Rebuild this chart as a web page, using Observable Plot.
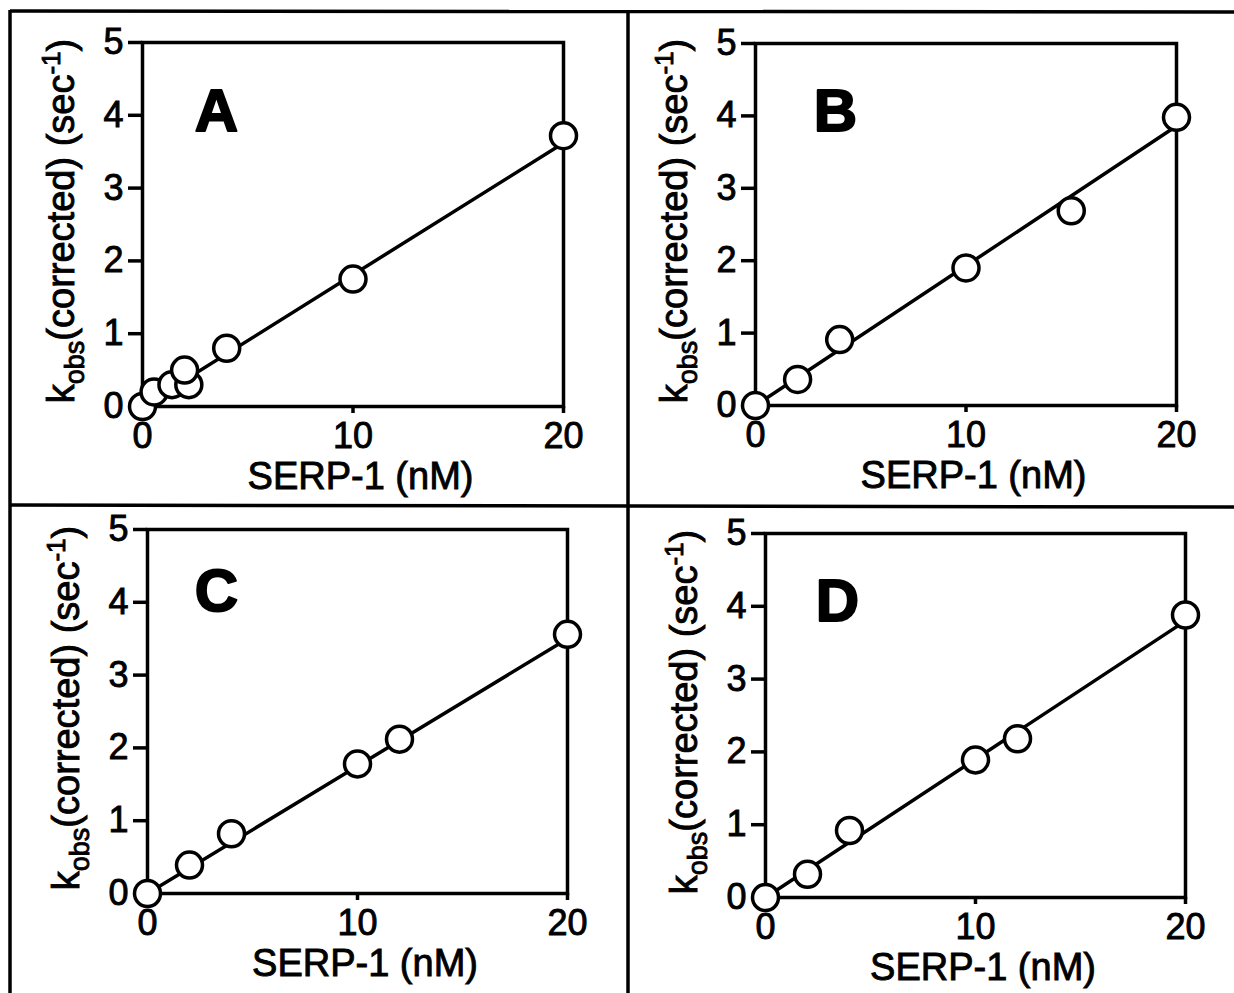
<!DOCTYPE html>
<html><head><meta charset="utf-8">
<script src="https://cdn.jsdelivr.net/npm/d3@7"></script>
<script src="https://cdn.jsdelivr.net/npm/@observablehq/plot@0.6"></script>
<style>
body{margin:0;background:#fff;}
#wrap{position:relative;width:1234px;height:993px;overflow:hidden;background:#fff;}
.panel{position:absolute;}
svg text{font-family:"Liberation Sans",Arial,sans-serif;}
svg g[aria-label$="tick label"] text, svg text.axtitle{stroke:black;stroke-width:0.9px;}
</style></head><body><div id="wrap"></div>
<script>
// ---- data ----
const panelKeys = ["A","B","C","D"];
const serpA = [0, 0.55, 1.4, 2.2, 2, 4, 10, 20];
const kobsA = [0, 0.2, 0.3, 0.3, 0.5, 0.8, 1.75, 3.72];
const serpB = [0, 2, 4, 10, 15, 20];
const kobsB = [0, 0.36, 0.91, 1.9, 2.69, 3.98];
const serpC = [0, 2, 4, 10, 12, 20];
const kobsC = [0, 0.39, 0.82, 1.78, 2.12, 3.56];
const serpD = [0, 2, 4, 10, 12, 20];
const kobsD = [0, 0.32, 0.92, 1.89, 2.18, 3.88];
const fitX = [0, 20];
const fitA = [0, 3.62];
const fitB = [0, 3.86];
const fitC = [0, 3.5];
const fitD = [0, 3.8];
const xTicks = [0, 10, 20];
const yTicks = [0, 1, 2, 3, 4, 5];
const xLabel = "SERP-1 (nM)";

// ---- layout ----
const layout = {
  A: {left: 0,   top: 0,   w: 617, h: 500, ml: 142, mr: 54, mt: 42, mb: 94, lx: 74, ly: 88},
  B: {left: 617, top: 0,   w: 617, h: 500, ml: 138, mr: 58, mt: 43, mb: 95, lx: 80, ly: 87},
  C: {left: 0,   top: 500, w: 617, h: 493, ml: 147, mr: 50, mt: 29, mb: 100, lx: 69, ly: 81},
  D: {left: 617, top: 500, w: 617, h: 493, ml: 148, mr: 49, mt: 33, mb: 96, lx: 72, ly: 87}
};
const series = {
  A: [serpA, kobsA, fitA], B: [serpB, kobsB, fitB],
  C: [serpC, kobsC, fitC], D: [serpD, kobsD, fitD]
};

const wrap = document.getElementById("wrap");

for (const key of panelKeys) {
  const L = layout[key];
  const [xs, ys, fit] = series[key];
  const pts = xs.map((x, i) => ({x, y: ys[i]}));
  const fitLine = fitX.map((x, i) => ({x, y: fit[i]}));
  const chart = Plot.plot({
    width: L.w, height: L.h,
    marginLeft: L.ml, marginRight: L.mr, marginTop: L.mt, marginBottom: L.mb,
    style: {fontFamily: "Liberation Sans, Arial, sans-serif", color: "#000", background: "transparent", overflow: "visible"},
    x: {domain: [0, 20]},
    y: {domain: [0, 5]},
    marks: [
      Plot.axisX({ticks: xTicks, tickSize: 7, tickPadding: 9, strokeWidth: 3.5, fontSize: 36, label: null, tickFormat: d => String(d)}),
      Plot.axisY({ticks: yTicks, tickSize: 14, tickPadding: 5, strokeWidth: 3.5, fontSize: 36, label: null, tickFormat: d => String(d)}),
      Plot.frame({stroke: "black", strokeWidth: 3.5}),
      Plot.line(fitLine, {x: "x", y: "y", stroke: "black", strokeWidth: 3.5}),
      Plot.dot(pts, {x: "x", y: "y", r: 13, fill: "white", stroke: "black", strokeWidth: 3.5}),
      Plot.text([key], {frameAnchor: "top-left", dx: L.lx, dy: L.ly, text: d => d, lineAnchor: "bottom", textAnchor: "middle",
        fontSize: 60, fontWeight: "bold", fontFamily: "DejaVu Sans", fill: "black", stroke: "black", strokeWidth: 2})
    ]
  });
  const svg = d3.select(chart);
  const fw = L.w - L.ml - L.mr, fh = L.h - L.mt - L.mb;
  // x-axis title
  svg.append("text").attr("class", "axtitle")
    .attr("x", L.ml + fw / 2 + 8).attr("y", L.mt + fh + 83)
    .attr("text-anchor", "middle").attr("font-size", 38).attr("fill", "black")
    .text(xLabel);
  // y-axis title with subscript / superscript
  const yt = svg.append("text").attr("class", "axtitle")
    .attr("transform", `translate(${L.ml - 68},${L.mt + fh / 2 - 3}) rotate(-90)`)
    .attr("text-anchor", "middle").attr("font-size", 38).attr("fill", "black");
  yt.append("tspan").text("k");
  yt.append("tspan").attr("font-size", 27).attr("dy", 10).text("obs");
  yt.append("tspan").attr("dy", -10).text("(corrected) (sec");
  yt.append("tspan").attr("font-size", 26).attr("dy", -14).text("-1");
  yt.append("tspan").attr("dy", 14).text(")");

  chart.classList.add("panel");
  chart.style.left = L.left + "px";
  chart.style.top = L.top + "px";
  wrap.appendChild(chart);
}

// panel borders (figure frame)
const border = d3.select(wrap).append("svg")
  .attr("width", 1234).attr("height", 993)
  .style("position", "absolute").style("left", 0).style("top", 0);
const bl = [[10, 11, 1234, 12], [10, 10, 10, 993], [628, 10, 628, 993], [10, 505, 1234, 507]];
border.selectAll("line").data(bl).join("line")
  .attr("x1", d => d[0]).attr("y1", d => d[1]).attr("x2", d => d[2]).attr("y2", d => d[3])
  .attr("stroke", "black").attr("stroke-width", 3.5);
</script></body></html>
